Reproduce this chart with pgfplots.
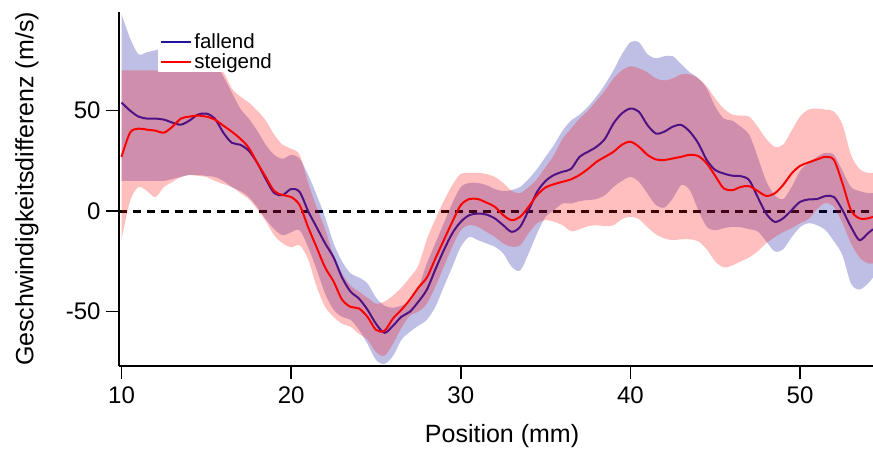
\documentclass[border=0pt]{standalone}
\usepackage{fontspec}
\setmainfont{Liberation Sans}
\usepackage{pgfplots}
\usepackage{pgfplotstable}
\pgfplotsset{compat=1.18}
\usepgfplotslibrary{fillbetween}

\definecolor{fallC}{RGB}{35,20,155}
\definecolor{fallPlot}{RGB}{78,18,132}
\definecolor{fallBand}{RGB}{0,0,155}
\definecolor{steigC}{RGB}{255,0,0}

% x, mean/upper/lower for fallend (F) and steigend (S)
\pgfplotstableread{
x    F     FU   FL     S     SU    SL
10   54    98   15     27    70    -14
10.5 50    86   15     39    70    5
11   47    78   15     41    70    12
11.5 46    79   15     40.5  70    10
12   46    80   15     40    70    7
12.5 45.5  81   15     39    70    12
13   44    81   16     42    70    14.5
13.5 43    80   17     46    70    17
14   45    79   18     47    70    18
14.5 48    77   18     47.5  70    17.5
15   48.5  75   17.5   47    70    17
15.5 46    74   17     45.5  70    15
16   39    67   15     42.5  69    13.5
16.5 34    59   12     39.5  61    12
17   33    51   10     36    57    9
17.5 30    46   7      31.5  54    6
18   24    40   2      24    50    1
18.5 16    33   -4     17    45    -5
19   9     28   -9     10    38    -12
19.5 8     26   -12    8     33    -16
20   11    28   -10.5  7     31    -18
20.5 9.5   26   -9.5   3     28    -17
21   0     18   -18    -8    14    -24
21.5 -8    8    -29    -18   2     -37.6
22   -16   -3   -41    -28   -9    -47.6
22.5 -23   -16  -49    -35   -22   -52.6
23   -33   -25  -52.6  -44   -31   -56
23.5 -40   -31  -54    -47.6 -37   -57.5
24   -43.5 -33  -59    -48.4 -40   -61
24.5 -49   -36  -66    -52.6 -43   -64
25   -56   -43  -74    -59   -46   -70
25.5 -60.5 -47  -76    -59.5 -45   -72
26   -57   -48  -72    -53.4 -42   -66
26.5 -52.5 -47  -64    -49   -38   -58
27   -50   -45  -60    -44   -33   -52
27.5 -45   -38  -57    -38   -27   -50
28   -39   -26  -54    -33   -14   -46
28.5 -29   -16  -47.6  -23.6 -4    -37.6
29   -19.4 -6   -37.6  -14.4 5     -27.7
29.5 -11   4    -27.7  -5.3  13    -17.7
30   -5.3  12   -17.7  3     18.5  -9.5
30.5 -2    14   -12.8  6     19    -7
31   -1.2  14   -14.4  6     19    -7.8
31.5 -1.7  13   -16    4.3   18.5  -10.3
32   -3.6  11   -17.7  2.2   17    -12.8
32.5 -7    10   -21    -2    14    -16
33   -10.3 10.5 -27.7  -4.5  10    -17.7
33.5 -7.8  12   -29.5  -2.8  9     -17
34   0.5   16   -21    2.2   12    -11
34.5 9.6   21   -11    8     16    -6
35   15    27   -2.8   11.8  22    -4.5
35.5 18    33   0.5    13.4  28    -5.3
36   19.6  40   3.8    14.6  36    -7
36.5 21    45   3.8    15.8  41    -10
37   27    48   5      18    46    -9
37.5 29.5  52   5.5    21    50    -7.5
38   32    57   6      24.5  55    -7
38.5 36    63   8      27    60    -7.5
39   43.6  70   12     29.5  66    -7
39.5 48.6  78   15     33    70    -4
40   51    84   17     34.5  72    -2.8
40.5 49.4  84   14.6   32    71    -4
41   42.8  78   8.8    28    69    -8
41.5 38.6  76   3      25.7  66    -11.5
42   39.5  77   1.8    25.4  65    -13.6
42.5 42    77   6.3    26.2  66    -14.4
43   42.8  73   13     27    68    -14
43.5 39.5  69   10.4   28    68    -14
44   33.7  66   0.5    27.4  66    -15
44.5 25.4  61   -7.8   23.7  62    -19
45   20.4  52   -9.5   17.5  56    -25
45.5 18.7  46   -8.5   11.3  51    -28
46   17.6  45   -7.8   10.4  48    -27
46.5 17.4  42   -8     12    47.5  -25
47   15.4  38   -9     12.4  47    -23
47.5 7     27   -10    10    42    -20
48   -1.2  15   -15    7.6   36    -16
48.5 -5.3  8    -20    8.8   32    -13
49   -3.6  6    -19    13    33    -10.5
49.5 0.5   12   -13    18.7  40    -8.5
50   4.6   20   -8     22.5  47    -6
50.5 5.8   24   -6     24.2  50.5  -4
51   6     27   -7     25.7  51    1
51.5 7.5   29   -9.5   27    50.5  4
52   7     28   -15    25.4  49.5  2
52.5 0.5   20   -22    13.8  43    -6
53   -7.8  12   -36    0.5   28    -16
53.5 -14.4 10   -39    -3.6  21    -23
54   -11   9    -36    -3.6  19    -26
54.3 -9    9    -33    -2.8  19    -26
}\data

\begin{document}
\begin{tikzpicture}
\begin{axis}[
  set layers,
  scale only axis,
  width=754bp, height=354bp,
  xmin=9.85, xmax=54.3,
  ymin=-77, ymax=99,
  axis x line*=bottom, axis y line*=left,
  axis line style={line width=1.4bp},
  xtick={10,20,30,40,50}, ytick={-50,0,50},
  tick align=outside, major tick length=13bp,
  tick style={line width=1.4bp, black},
  /pgf/number format/assume math mode=true,
  tick label style={font=\fontsize{24bp}{26bp}\selectfont},
  xticklabel style={yshift=-4bp},
  yticklabel style={xshift=-2bp},
  every axis x label/.style={at={(axis description cs:0.508,-0.198)}, anchor=center,
    font=\fontsize{25bp}{28bp}\selectfont},
  every axis y label/.style={at={(axis description cs:-0.122,0.5)}, rotate=90, anchor=center,
    font=\fontsize{25bp}{28bp}\selectfont},
  xlabel={Position (mm)},
  ylabel={Geschwindigkeitsdifferenz (m/s)},
  legend style={at={(0.052,0.944)}, anchor=north west, draw=none, fill=white,
    font=\fontsize{20.5bp}{21bp}\selectfont, inner xsep=2bp, inner ysep=0bp,
    row sep=-1bp},
  legend cell align=left,
  legend image code/.code={\draw[#1] (0bp,0bp) -- (30bp,0bp);},
]
\coordinate (A) at (rel axis cs:0,0);
\coordinate (B) at (rel axis cs:1,1);
\addplot[black, line width=3bp, dash pattern=on 8bp off 6bp, forget plot, on layer=pre main]
  coordinates {(9.85,0) (54.3,0)};

\addplot[name path=fu, draw=none, smooth, forget plot] table[x=x, y=FU] {\data};
\addplot[name path=fl, draw=none, smooth, forget plot] table[x=x, y=FL] {\data};
\addplot[fallBand, fill opacity=0.25, forget plot] fill between[of=fu and fl];
\addplot[fallPlot, line width=2bp, smooth, forget plot] table[x=x, y=F] {\data};
\addlegendimage{fallC, line width=2bp}
\addlegendentry{fallend}

\addplot[name path=su, draw=none, smooth, forget plot] table[x=x, y=SU] {\data};
\addplot[name path=sl, draw=none, smooth, forget plot] table[x=x, y=SL] {\data};
\addplot[steigC, fill opacity=0.25, forget plot] fill between[of=su and sl];
\addplot[steigC, line width=2bp, smooth] table[x=x, y=S] {\data};
\addlegendentry{steigend}
\end{axis}
\pgfresetboundingbox
\useasboundingbox ([xshift=-119bp,yshift=-84bp]A) rectangle ([yshift=12bp]B);
\end{tikzpicture}
\end{document}
